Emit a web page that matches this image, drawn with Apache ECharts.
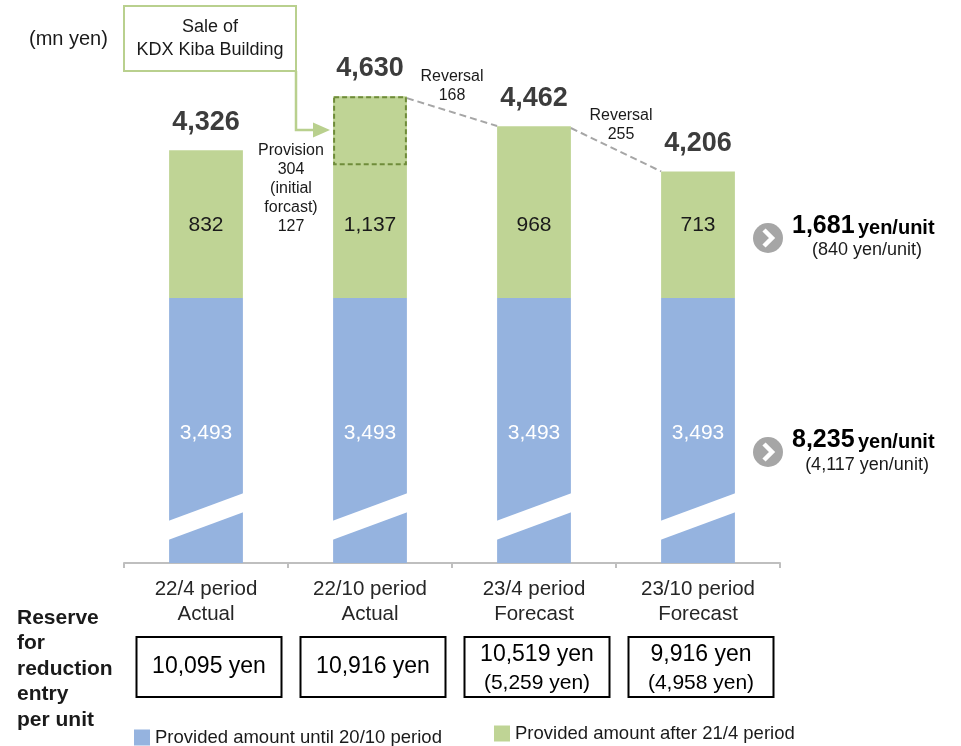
<!DOCTYPE html>
<html><head><meta charset="utf-8">
<script src="https://cdn.jsdelivr.net/npm/echarts@6/dist/echarts.min.js"></script>
<style>html,body{margin:0;padding:0;background:#fff}#c{width:961px;height:746px}</style>
</head><body><div id="c"></div>
<script>
// ---- data ----
const categories = ['22/4 period\nActual', '22/10 period\nActual', '23/4 period\nForecast', '23/10 period\nForecast'];
const seriesNames = ['Provided amount until 20/10 period', 'Provided amount after 21/4 period'];
const baseValues = [3493, 3493, 3493, 3493];
const addedValues = [832, 1137, 968, 713];
const totals = [4326, 4630, 4462, 4206];
const provisionBox = [[1, 4247, 4630]];           // category, from, to (dashed box)
const reversalLinks = [[1, 4630, 2, 4462], [2, 4462, 3, 4206]];
const breakBandBottom = [129, 287];               // left edge, right edge
const breakBandTop = [236, 394];
const axisBreak = { start: 1000, end: 3001 };
const reserveMain = ['10,095 yen', '10,916 yen', '10,519 yen', '9,916 yen'];
const reserveSub = ['', '', '(5,259 yen)', '(4,958 yen)'];
const perUnitMain = ['1,681', '8,235'];
const perUnitSub = ['(840 yen/unit)', '(4,117 yen/unit)'];

const FONT = '"Liberation Sans", Arial, sans-serif';
const BLUE = '#95b3df', GREEN = '#bfd495';
const fmt = v => Number(v).toLocaleString('en-US');

const chart = echarts.init(document.getElementById('c'), null, { renderer: 'canvas' });
const BARW = 0.45;

const option = {
  animation: false,
  backgroundColor: '#fff',
  textStyle: { fontFamily: FONT },
  grid: { left: 124, right: 181, top: 50, bottom: 183, containLabel: false, outerBoundsMode: 'none' },
  legend: [
    { data: [seriesNames[0]], left: 134, top: 728, padding: 0, itemWidth: 16, itemHeight: 16, icon: 'rect', selectedMode: false,
      textStyle: { fontSize: 18.5, color: '#1a1a1a', fontFamily: FONT } },
    { data: [seriesNames[1]], left: 494, top: 724, padding: 0, itemWidth: 16, itemHeight: 16, icon: 'rect', selectedMode: false,
      textStyle: { fontSize: 18.5, color: '#1a1a1a', fontFamily: FONT } }
  ],
  xAxis: {
    type: 'category', data: categories,
    axisLine: { lineStyle: { color: '#bfbfbf', width: 2 } },
    axisTick: { show: true, length: 5, lineStyle: { color: '#bfbfbf', width: 2 } },
    axisLabel: { fontSize: 20.5, color: '#262626', lineHeight: 25, margin: 14, fontFamily: FONT }
  },
  yAxis: {
    type: 'value', min: 0, max: 4890,
    breaks: [{ start: axisBreak.start, end: axisBreak.end, gap: 0 }],
    breakArea: { show: false },
    axisLine: { show: false }, axisTick: { show: false }, axisLabel: { show: false }, splitLine: { show: false }
  },
  series: [
    { name: seriesNames[0], type: 'bar', stack: 'a', data: baseValues, barWidth: '45%',
      itemStyle: { color: BLUE },
      label: { show: true, position: 'inside', offset: [0, 3], color: '#fff', fontSize: 21, fontFamily: FONT, formatter: p => fmt(p.value) } },
    { name: seriesNames[1], type: 'bar', stack: 'a', data: addedValues, barWidth: '45%',
      itemStyle: { color: GREEN },
      label: { show: true, position: 'insideBottom', distance: 62, color: '#1a1a1a', fontSize: 21, fontFamily: FONT, formatter: p => fmt(p.value) } },
    { type: 'custom', data: provisionBox, z: 5, encode: { x: 0, y: [1, 2] },
      renderItem(params, api) {
        const c = api.value(0);
        const top = api.coord([c, api.value(2)]);
        const bot = api.coord([c, api.value(1)]);
        const w = api.size([1, 0])[0] * BARW;
        return { type: 'rect', shape: { x: top[0] - w / 2 + 1, y: top[1] + 1, width: w - 2, height: bot[1] - top[1] - 1 },
          style: { fill: GREEN, stroke: '#6f8c3a', lineWidth: 2, lineDash: [5, 3] } };
      } },
    { type: 'custom', data: reversalLinks, z: 4, encode: { x: [0, 2], y: [1, 3] },
      renderItem(params, api) {
        const w = api.size([1, 0])[0] * BARW;
        const p1 = api.coord([api.value(0), api.value(1)]);
        const p2 = api.coord([api.value(2), api.value(3)]);
        return { type: 'line', shape: { x1: p1[0] + w / 2, y1: p1[1] + 2, x2: p2[0] - w / 2, y2: p2[1] },
          style: { stroke: '#a6a6a6', lineWidth: 2, lineDash: [7, 4] } };
      } },
    { type: 'custom', data: categories.map((_, i) => [i]), z: 6, encode: { x: 0 }, silent: true,
      renderItem(params, api) {
        const c = api.value(0);
        const w = api.size([1, 0])[0] * BARW;
        const lb = api.coord([c, breakBandBottom[0]]), rb = api.coord([c, breakBandBottom[1]]);
        const lt = api.coord([c, breakBandTop[0]]), rt = api.coord([c, breakBandTop[1]]);
        const xl = lb[0] - w / 2 - 1, xr = lb[0] + w / 2 + 1;
        return { type: 'polygon', shape: { points: [[xl, lb[1]], [xr, rb[1]], [xr, rt[1]], [xl, lt[1]]] },
          style: { fill: '#fff' } };
      } },
    { type: 'scatter', data: totals, symbolSize: 0, z: 7, itemStyle: { opacity: 1 },
      label: { show: true, position: 'top', distance: 14, fontSize: 27, fontWeight: 'bold', color: '#3c3c3c', opacity: 1, fontFamily: FONT,
        formatter: p => fmt(p.value) } }
  ]
};
chart.setOption(option);

const xs = categories.map((_, i) => chart.convertToPixel({ xAxisIndex: 0 }, i));
const LG = '#b9d08e';
const g = [];
g.push({ type: 'text', left: 29, top: 29, style: { text: '(mn yen)', font: '20px ' + FONT, fill: '#1a1a1a' } });
g.push({ type: 'rect', shape: { x: 124, y: 6, width: 172, height: 65 }, style: { fill: '#fff', stroke: LG, lineWidth: 2 } });
g.push({ type: 'text', x: 210, y: 38.5, style: { text: 'Sale of\nKDX Kiba Building', font: '18px ' + FONT, fill: '#1a1a1a', align: 'center', verticalAlign: 'middle', lineHeight: 23 } });
g.push({ type: 'polyline', shape: { points: [[296, 71], [296, 130], [315, 130]] }, style: { stroke: LG, lineWidth: 2.5, fill: null } });
g.push({ type: 'polygon', shape: { points: [[313, 122.5], [330, 130], [313, 137.5]] }, style: { fill: LG } });
g.push({ type: 'text', x: 291, y: 189, style: { text: 'Provision\n304\n(initial\nforcast)\n127', font: '16px ' + FONT, fill: '#1a1a1a', align: 'center', verticalAlign: 'middle', lineHeight: 19 } });
g.push({ type: 'text', x: 452, y: 86.5, style: { text: 'Reversal\n168', font: '16px ' + FONT, fill: '#1a1a1a', align: 'center', verticalAlign: 'middle', lineHeight: 19 } });
g.push({ type: 'text', x: 621, y: 125, style: { text: 'Reversal\n255', font: '16px ' + FONT, fill: '#1a1a1a', align: 'center', verticalAlign: 'middle', lineHeight: 19 } });
// right side per-unit notes
[[238, 226, 250], [452, 440, 465]].forEach((p, k) => {
  g.push({ type: 'circle', shape: { cx: 768, cy: p[0], r: 15 }, style: { fill: '#a6a6a6' } });
  g.push({ type: 'polyline', shape: { points: [[764, p[0] - 8], [772, p[0]], [764, p[0] + 8]] }, style: { stroke: '#fff', lineWidth: 4.5, fill: null } });
  g.push({ type: 'text', x: 792, y: p[1], style: {
    text: '{a|' + perUnitMain[k] + '} {b|yen/unit}', align: 'left', verticalAlign: 'middle',
    rich: { a: { font: 'bold 25px ' + FONT, fill: '#000', verticalAlign: 'bottom' }, b: { font: 'bold 20px ' + FONT, fill: '#000', verticalAlign: 'bottom' } } } });
  g.push({ type: 'text', x: 867, y: p[2], style: { text: perUnitSub[k], font: '18px ' + FONT, fill: '#1a1a1a', align: 'center', verticalAlign: 'middle' } });
});
g.push({ type: 'text', x: 17, y: 669, style: { text: 'Reserve\nfor\nreduction\nentry\nper unit', font: 'bold 21px ' + FONT, fill: '#1a1a1a', align: 'left', verticalAlign: 'middle', lineHeight: 25.5 } });
xs.forEach((x, i) => {
  const cx = x + 3;
  g.push({ type: 'rect', shape: { x: cx - 72.5, y: 637, width: 145, height: 60 }, style: { fill: '#fff', stroke: '#000', lineWidth: 2 } });
  if (reserveSub[i]) {
    g.push({ type: 'text', x: cx, y: 655, style: { text: reserveMain[i], font: '23px ' + FONT, fill: '#000', align: 'center', verticalAlign: 'middle' } });
    g.push({ type: 'text', x: cx, y: 683, style: { text: reserveSub[i], font: '21px ' + FONT, fill: '#000', align: 'center', verticalAlign: 'middle' } });
  } else {
    g.push({ type: 'text', x: cx, y: 667, style: { text: reserveMain[i], font: '23px ' + FONT, fill: '#000', align: 'center', verticalAlign: 'middle' } });
  }
});
chart.setOption({ graphic: g });
</script>
</body></html>
